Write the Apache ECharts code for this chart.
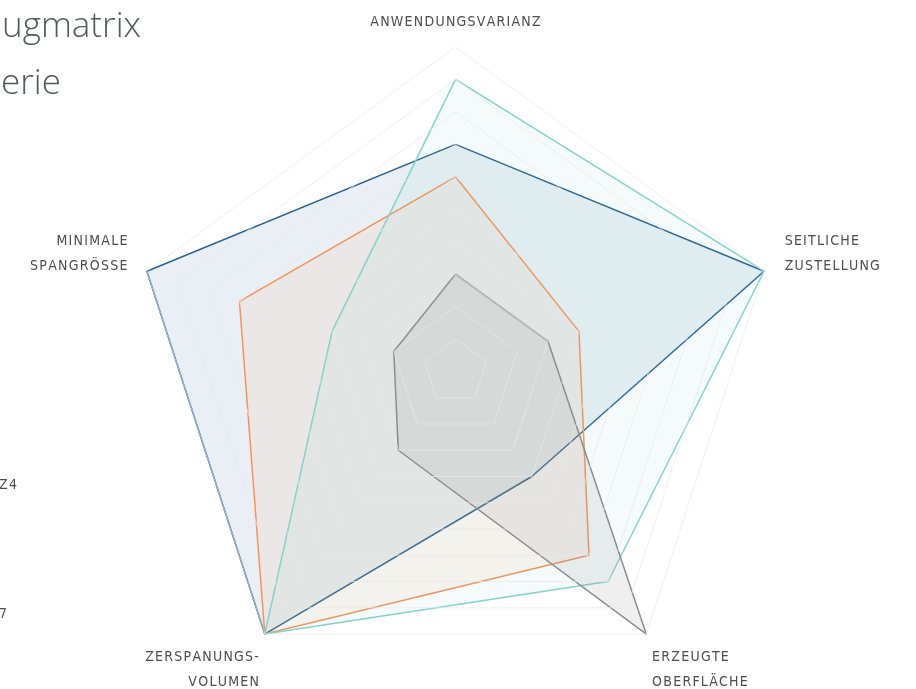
<!DOCTYPE html>
<html>
<head>
<meta charset="utf-8">
<script src="https://cdn.jsdelivr.net/npm/echarts@6/dist/echarts.min.js"></script>
<style>
html, body { margin: 0; padding: 0; background: #fff; }
#main { width: 916px; height: 689px; }
</style>
</head>
<body>
<div id="main"></div>
<script>
// achsen (gegen den uhrzeigersinn ab oben)
const achsen = ['ANWENDUNGSVARIANZ', 'MINIMALE\nSPANGRÖSSE', 'ZERSPANUNGS-\nVOLUMEN', 'ERZEUGTE\nOBERFLÄCHE', 'SEITLICHE\nZUSTELLUNG'];
const achsenMax = 10;

const serienNamen = ['BOHRER', 'SENKER', 'FRÄSER Z4', 'FRÄSER 7'];
const werteBlau = [7, 10, 10, 4, 10];
const werteOrange = [6, 7, 10, 7, 4];
const werteTuerkis = [9, 4, 10, 8, 10];
const werteGrau = [3, 2, 3, 10, 3];

const farben = ['#28618f', '#f4935a', '#86d3cb', '#8d8d8d'];
const fuellung = [0.1, 0.09, 0.09, 0.14];

const schrift = '"DejaVu Sans Condensed", "Liberation Sans Narrow", sans-serif';
const textFarbe = '#4d4d4d';

// buchstaben sperren
function sperren(s) {
    return s.split('\n').map(l => l.split('').join('\u200A')).join('\n');
}
function textBreite(s) {
    const ctx = document.createElement('canvas').getContext('2d');
    ctx.font = '14px ' + schrift;
    return ctx.measureText(s).width;
}

// rich-stil je achse: oben, links oben, links unten, rechts unten, rechts oben
const achsenStil = ['o', 'lo', 'lu', 'ru', 'ro'];
function richStil(align, padding, lh) {
    return { color: textFarbe, fontFamily: schrift, fontSize: 14, lineHeight: lh || 25, align: align, padding: padding };
}
function achsenText(name) {
    const k = achsenStil[achsen.indexOf(name)];
    let zeilen = sperren(name).split('\n').map(z => '{' + k + '|' + z + '}');
    if (k === 'lo' || k === 'ro') zeilen.push('{lo2| }');
    if (k === 'lu' || k === 'ru') zeilen = ['{lu2| }', '{lu2| }'].concat(zeilen);
    return zeilen.join('\n');
}

const werte = [werteBlau, werteOrange, werteTuerkis, werteGrau];
const legendeLinks = 17 - 30 - textBreite(sperren(serienNamen[2]));

var myChart = echarts.init(document.getElementById('main'));
var option = {
    animation: false,
    graphic: [
        {
            type: 'text', x: 141, y: 27,
            style: { text: 'Werkzeugmatrix', textAlign: 'right', align: 'right', textVerticalAlign: 'middle', verticalAlign: 'middle',
                fontSize: 35, fontFamily: 'Open Sans', fontWeight: 300, fill: '#55595d' }
        },
        {
            type: 'text', x: 61, y: 84,
            style: { text: 'HPC-Serie', textAlign: 'right', align: 'right', textVerticalAlign: 'middle', verticalAlign: 'middle',
                fontSize: 35, fontFamily: 'Open Sans', fontWeight: 300, fill: '#55595d' }
        }
    ],
    legend: {
        orient: 'vertical',
        left: legendeLinks,
        top: 220,
        padding: 0,
        itemGap: 115,
        itemWidth: 25,
        itemHeight: 14,
        data: serienNamen,
        formatter: n => sperren(n),
        textStyle: { color: textFarbe, fontFamily: schrift, fontSize: 14 }
    },
    radar: {
        z: 3,
        center: [455.5, 371.5],
        radius: 324.5,
        shape: 'polygon',
        splitNumber: 10,
        nameGap: 10,
        indicator: achsen.map(a => ({ name: a, min: 0, max: achsenMax })),
        axisName: {
            color: textFarbe,
            fontFamily: schrift,
            fontSize: 14,
            lineHeight: 25,
            formatter: n => achsenText(n),
            rich: {
                o: richStil('center', [0, 0, 5, 0]),
                lo: richStil('right', [0, 10, 0, 0]),
                ro: richStil('left', [0, 0, 0, 11]),
                lu: richStil('right', 0),
                ru: richStil('left', 0),
                lo2: richStil('left', 0, 29),
                lu2: richStil('left', 0, 28)
            }
        },
        axisLine: { show: false },
        splitArea: { show: false },
        splitLine: { lineStyle: { color: 'rgba(232,232,232,0.7)', width: 1 } }
    },
    series: [{
        type: 'radar',
        symbol: 'none',
        data: werte.map((w, i) => ({
            name: serienNamen[i],
            value: w,
            lineStyle: { color: farben[i], width: 1.5 },
            itemStyle: { color: farben[i] },
            areaStyle: { color: farben[i], opacity: fuellung[i] }
        }))
    }]
};
myChart.setOption(option);
</script>
</body>
</html>
